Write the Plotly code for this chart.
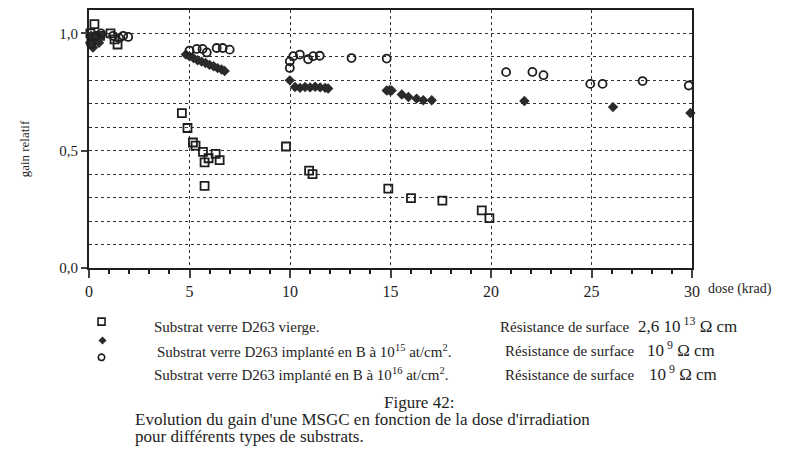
import plotly.graph_objs as go

# substrat vierge (carrés)
sq_x = [0.07, 0.12, 0.27, 0.55, 1.07, 1.27, 1.42, 4.62, 4.9, 5.17, 5.3, 5.67, 5.75, 5.95,
        6.3, 6.5, 5.75, 9.8, 10.95, 11.12, 14.89, 16.02, 17.58, 19.54, 19.92]
sq_y = [1.0, 0.97, 1.04, 0.99, 1.0, 0.975, 0.953, 0.66, 0.597, 0.535, 0.522, 0.495, 0.45, 0.468,
        0.487, 0.46, 0.35, 0.518, 0.415, 0.40, 0.338, 0.298, 0.287, 0.246, 0.213]

# implanté 10^15 (losanges pleins)
dia_x = [0.05, 0.1, 0.2, 0.3, 0.4, 0.5, 0.6,
         4.82, 5.0, 5.2, 5.4, 5.6, 5.8, 6.0, 6.2, 6.4, 6.6, 6.75,
         9.99, 10.25, 10.5, 10.75, 11.0, 11.25, 11.5, 11.75, 11.9,
         14.81, 14.95, 15.06, 15.56, 15.89, 16.3, 16.63, 17.05,
         21.66, 26.07, 29.92]
dia_y = [0.96, 0.99, 0.94, 0.975, 0.98, 0.96, 0.99,
         0.91, 0.903, 0.895, 0.886, 0.88, 0.874, 0.866, 0.86, 0.852, 0.846, 0.84,
         0.80, 0.772, 0.768, 0.772, 0.77, 0.773, 0.77, 0.768, 0.765,
         0.757, 0.758, 0.757, 0.74, 0.729, 0.722, 0.715, 0.715,
         0.712, 0.686, 0.661]

# implanté 10^16 (cercles ouverts)
circ_x = [0.1, 0.35, 0.6, 1.2, 1.5, 1.7, 1.95,
          5.0, 5.36, 5.65, 5.86, 6.35, 6.65, 7.0,
          9.99, 9.99, 10.16, 10.49, 10.9, 11.15, 11.48, 13.06, 14.81,
          20.75, 22.06, 22.61, 24.94, 25.55, 27.54, 29.84, 30.04]
circ_y = [0.955, 0.99, 1.0, 0.99, 0.98, 0.99, 0.985,
          0.927, 0.934, 0.934, 0.919, 0.938, 0.938, 0.931,
          0.853, 0.881, 0.903, 0.91, 0.89, 0.903, 0.905, 0.895, 0.893,
          0.835, 0.836, 0.822, 0.785, 0.785, 0.797, 0.778, 0.751]

y_tickvals = [0.0, 0.5, 1.0]
y_ticktext = ["0,0", "0,5", "1,0"]

legend_left = ["Substrat verre D263 vierge.",
               "Substrat verre D263 implanté en B à 10<sup>15</sup> at/cm<sup>2</sup>.",
               "Substrat verre D263 implanté en B à 10<sup>16</sup> at/cm<sup>2</sup>."]
legend_right = ["2,6 10<sup> 13</sup> Ω cm", "10<sup> 9</sup> Ω cm", "10<sup> 9</sup> Ω cm"]

ink = "#1e1e1e"
serif = "Liberation Serif"

fig = go.Figure()
fig.add_trace(go.Scatter(x=sq_x, y=sq_y, mode="markers", cliponaxis=False,
                         marker=dict(symbol="square-open", size=8, color=ink, line=dict(width=1.8))))
fig.add_trace(go.Scatter(x=dia_x, y=dia_y, mode="markers", cliponaxis=False,
                         marker=dict(symbol="diamond", size=8, color="#2b2b2b", line=dict(width=0))))
fig.add_trace(go.Scatter(x=circ_x, y=circ_y, mode="markers", cliponaxis=False,
                         marker=dict(symbol="circle-open", size=8, color=ink, line=dict(width=1.8))))

# la page html ajoute 8 px de marge autour du graphe
fig.update_layout(
    width=790, height=455, showlegend=False,
    margin=dict(l=81, r=106, t=0, b=195),
    paper_bgcolor="white", plot_bgcolor="white",
    font=dict(family=serif, size=13, color=ink),
    xaxis=dict(range=[0, 30], tickvals=[0, 5, 10, 15, 20, 25, 30], ticks="outside", ticklen=8,
               tickwidth=1.5, showline=True, linewidth=2, linecolor=ink, mirror=True,
               showgrid=True, gridcolor="#333", griddash="dot", gridwidth=1, zeroline=False,
               tickfont=dict(size=16),
               minor=dict(dtick=1, ticks="outside", ticklen=4, tickcolor=ink, showgrid=False)),
    yaxis=dict(range=[0, 1.1], tickvals=y_tickvals, ticktext=y_ticktext, ticks="outside",
               ticklen=6, tickwidth=1.5, showline=True, linewidth=2, linecolor=ink, mirror=True,
               showgrid=True, gridcolor="#333", griddash="dot", gridwidth=1, zeroline=False,
               tickfont=dict(size=15),
               minor=dict(dtick=0.1, showgrid=True, gridcolor="#333", griddash="dot", gridwidth=1)),
)

W = 602.5
H = 260.0


def px(x):
    return (x - 89.5) / W


def py(y):
    return (268 - y) / H


annots = [
    dict(x=px(740), y=py(289), text="dose (krad)", xanchor="center", font=dict(size=14)),
    dict(x=px(25), y=py(148), text="gain relatif", xanchor="center", textangle=-90,
         font=dict(size=13)),
    dict(x=px(456), y=py(404), text="Figure 42:", xanchor="right", font=dict(size=17)),
    dict(x=px(133), y=py(421), text="Evolution du gain d'une MSGC en fonction de la dose d'irradiation",
         xanchor="left", font=dict(size=17)),
    dict(x=px(133), y=py(438), text="pour différents types de substrats.", xanchor="left",
         font=dict(size=17)),
]
left_pos = [(152, 327), (155, 352), (152, 375)]
right_pos = [(498, 327, 636), (503, 352, 645), (503, 376, 647)]
for txt, (lx, ly) in zip(legend_left, left_pos):
    annots.append(dict(x=px(lx), y=py(ly), text=txt, xanchor="left", font=dict(size=15)))
for txt, (rx, ry, vx) in zip(legend_right, right_pos):
    annots.append(dict(x=px(rx), y=py(ry), text="Résistance de surface", xanchor="left",
                       font=dict(size=15)))
    annots.append(dict(x=px(vx), y=py(ry - 2), text=txt, xanchor="left", font=dict(size=17)))
for a in annots:
    a.update(xref="paper", yref="paper", yanchor="middle", showarrow=False)
    fig.add_annotation(**a)

# symboles de la légende
sym_style = dict(xref="paper", yref="paper", xsizemode="pixel", ysizemode="pixel")
fig.add_shape(type="rect", xanchor=px(102), yanchor=py(322), x0=-3.5, x1=3.5, y0=-3.5, y1=3.5,
              line=dict(color=ink, width=1.6), **sym_style)
fig.add_shape(type="path", xanchor=px(103), yanchor=py(341), path="M -4 0 L 0 4 L 4 0 L 0 -4 Z",
              fillcolor="#2b2b2b", line=dict(width=0), **sym_style)
fig.add_shape(type="circle", xanchor=px(102), yanchor=py(358), x0=-3.2, x1=3.2, y0=-3.2, y1=3.2,
              line=dict(color=ink, width=1.6), **sym_style)

fig.write_html("out.html")
